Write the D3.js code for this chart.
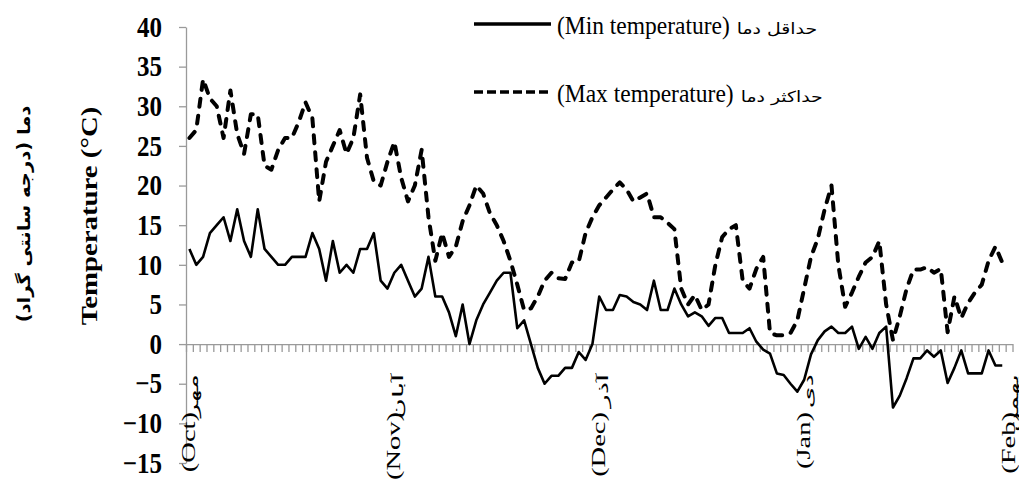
<!DOCTYPE html>
<html>
<head>
<meta charset="utf-8">
<script src="https://cdn.jsdelivr.net/npm/d3@7"></script>
<style>
body { margin: 0; background: #fff; }
</style>
</head>
<body>
<div id="chart"></div>
<script>
// daily values (Mehr 1 .. Dey 30)
const minTemp = [
  12, 10, 11, 14, 15, 16, 13, 17, 13, 11,
  17, 12, 11, 10, 10, 11, 11, 11, 14, 12,
  8, 13, 9, 10, 9, 12, 12, 14, 8, 7,
  9, 10, 8, 6, 7, 11, 6, 6, 4, 1,
  5, 0, 3, 5, 6.5, 8, 9, 9, 2, 3,
  0, -3, -5, -4, -4, -3, -3, -1, -2, 0,
  6, 4.3, 4.3, 6.2, 6, 5.3, 5, 4.3, 8, 4.3,
  4.3, 7, 5, 3.5, 4, 3.5, 2.3, 3.3, 3.3, 1.4,
  1.4, 1.4, 2, 0.3, -0.7, -1.2, -3.7, -3.9, -5, -6,
  -4.5, -1.3, 0.5, 1.6, 2.2, 1.4, 1.4, 2.2, -0.6, 0.9,
  -0.6, 1.4, 2.2, -8, -6.5, -4.3, -1.8, -1.8, -0.8, -1.6,
  -0.8, -4.9, -3, -0.8, -3.7, -3.7, -3.7, -0.8, -2.7, -2.7
]
const maxTemp = [
  26, 27, 33.4, 31, 30, 26, 32, 26.5, 24, 29,
  29, 22.5, 22, 24.5, 26, 26, 28, 30.5, 28.5, 18,
  23, 25, 27, 24, 26, 31.5, 23.5, 20.5, 20, 23,
  25.5, 21, 18, 20, 24.5, 16, 10.5, 14, 11, 12.3,
  15.5, 17.5, 20, 19, 16.5, 15, 13, 10.5, 7.5, 4.3,
  4.5, 6, 8, 9, 8.3, 8.2, 10.3, 10.4, 14, 16,
  17.5, 18.5, 19.5, 20.4, 19.5, 18, 18.5, 19, 16, 16,
  15.3, 14.5, 7, 5, 6.2, 4.3, 5, 10, 13.5, 14.5,
  15, 8, 7, 9.5, 11, 1.4, 1.1, 1.1, 1.4, 3,
  7, 11, 13.3, 17, 20, 10, 4.7, 6.5, 8.5, 10.3,
  11, 13, 5, 0.5, 3.5, 7, 9.4, 9.4, 9.7, 9,
  9.5, 1.5, 6, 3.3, 5.2, 6.5, 7.5, 10.5, 12.3, 10.3
]
const monthEn = ['(Oct)', '(Nov)', '(Dec)', '(Jan)', '(Feb)']
const monthFa = ['مهر', 'آبان', 'آذر', 'دی', 'بهمن']
const monthStart = [0, 30, 60, 90, 120]
const yTicks = [-15, -10, -5, 0, 5, 10, 15, 20, 25, 30, 35, 40]
const legendEn = ['(Min temperature)', '(Max temperature)']
const legendFa = ['حداقل دما', 'حداکثر دما']
const yTitleEn = 'Temperature (°C)'
const yTitleFa = 'دما (درجه سانتی گراد)'

const width = 1019
const height = 482
const nCats = 121
const stretch = 1.15
const serif = '"Liberation Serif", "Times New Roman", serif'
const faFont = '"DejaVu Sans", sans-serif'

const svg = d3.select('#chart')
    .append('svg')
    .attr('width', width)
    .attr('height', height)

const x = d3.scaleLinear()
    .domain([0, nCats])
    .range([186, 1012.5])

const y = d3.scaleLinear()
    .domain([-15, 40])
    .range([463, 27])

// x axis sits at zero, ticks between categories
const xAxis = svg.append('g')
    .attr('transform', `translate(0, ${y(0)})`)
    .call(d3.axisBottom(x).tickValues(d3.range(nCats + 1)).tickSize(8).tickSizeOuter(0).tickFormat(''))
xAxis.selectAll('path, line').attr('stroke', '#9a9a9a').attr('stroke-width', 1.3)

const yAxis = svg.append('g')
    .attr('transform', `translate(${x(0)}, 0)`)
    .call(d3.axisLeft(y).tickValues(yTicks).tickSize(7).tickSizeOuter(0).tickPadding(17))
yAxis.selectAll('path, line').attr('stroke', '#9a9a9a').attr('stroke-width', 1.3)
yAxis.selectAll('text')
    .attr('font-family', serif)
    .attr('font-weight', 'bold')
    .attr('font-size', 25)
    .attr('fill', '#000')
    .attr('transform', `scale(1, ${stretch})`)

// month labels, rotated: latin part below, persian part next to the axis
monthStart.forEach((m, k) => {
    const cx = x(m + 0.5)
    svg.append('g')
        .attr('transform', `translate(${cx + 6}, 412) scale(1, 1.5) rotate(-90)`)
        .append('text')
        .attr('text-anchor', 'end')
        .attr('font-family', serif)
        .attr('font-size', 19)
        .attr('fill', '#000')
        .text(monthEn[k])
    svg.append('g')
        .attr('transform', `translate(${cx + 9}, 374) scale(1, 2) rotate(-90)`)
        .append('text')
        .attr('text-anchor', 'end')
        .attr('font-family', faFont)
        .attr('font-size', 14)
        .attr('fill', '#000')
        .text(monthFa[k])
})

const line = d3.line()
    .x((d, i) => x(i + 0.5))
    .y(d => y(d))

svg.append('path')
    .datum(maxTemp)
    .attr('d', line)
    .attr('fill', 'none')
    .attr('stroke', '#000')
    .attr('stroke-width', 4)
    .attr('stroke-linecap', 'round')
    .attr('stroke-linejoin', 'round')
    .attr('stroke-dasharray', '8,9')

svg.append('path')
    .datum(minTemp)
    .attr('d', line)
    .attr('fill', 'none')
    .attr('stroke', '#000')
    .attr('stroke-width', 2.6)
    .attr('stroke-linejoin', 'round')

// legend
const legendY = [24, 92]
legendEn.forEach((txt, k) => {
    svg.append('line')
        .attr('x1', 474).attr('x2', 551)
        .attr('y1', legendY[k]).attr('y2', legendY[k])
        .attr('stroke', '#000')
        .attr('stroke-width', 3.5)
        .attr('stroke-dasharray', k === 1 ? '9,4' : null)
    const en = svg.append('g')
        .attr('transform', `translate(557, ${legendY[k] + 10}) scale(1, 1.08)`)
        .append('text')
        .attr('font-family', serif)
        .attr('font-size', 23.5)
        .attr('fill', '#000')
        .text(txt)
    const faX = 557 + en.node().getComputedTextLength() + 7
    svg.append('g')
        .attr('transform', `translate(${faX}, ${legendY[k] + 10}) scale(1.3, 1.05)`)
        .append('text')
        .attr('font-family', faFont)
        .attr('font-size', 14.5)
        .attr('fill', '#000')
        .text(legendFa[k])
})

// y titles
svg.append('g')
    .attr('transform', `translate(97, 216) scale(1, 1.2) rotate(-90)`)
    .append('text')
    .attr('text-anchor', 'middle')
    .attr('font-family', serif)
    .attr('font-weight', 'bold')
    .attr('font-size', 24)
    .attr('fill', '#000')
    .text(yTitleEn)

svg.append('g')
    .attr('transform', `translate(30, 214) scale(1, ${stretch}) rotate(-90)`)
    .append('text')
    .attr('text-anchor', 'middle')
    .attr('font-family', faFont)
    .attr('font-weight', 'bold')
    .attr('font-size', 17)
    .attr('fill', '#000')
    .text(yTitleFa)
</script>
</body>
</html>
